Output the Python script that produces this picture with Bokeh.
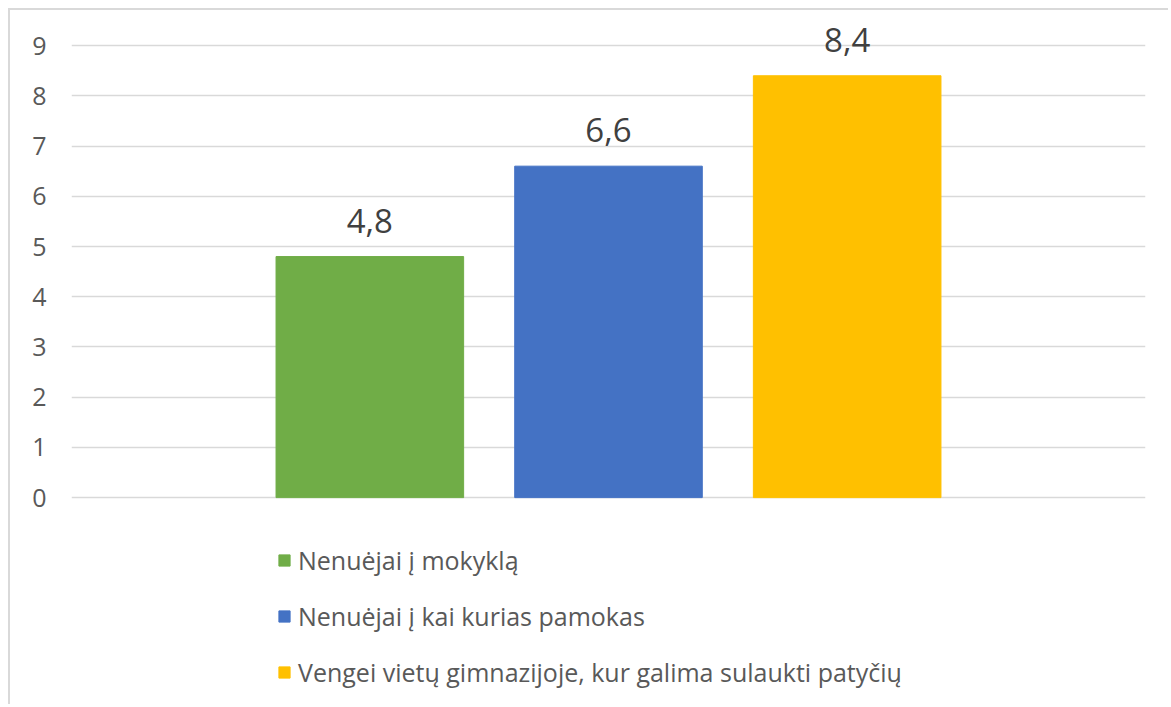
from bokeh.plotting import figure
from bokeh.models import ColumnDataSource, FactorRange, Range1d, Legend, LegendItem, FixedTicker, LabelSet
from bokeh.core.properties import value
from bokeh.embed import file_html
from bokeh.resources import INLINE

series = ["Nenuėjai į mokyklą", "Nenuėjai į kai kurias pamokas",
          "Vengei vietų gimnazijoje, kur galima sulaukti patyčių"]
values = [4.8, 6.6, 8.4]
labels = ["4,8", "6,6", "8,4"]
colors = ["#70AD47", "#4472C4", "#FFC000"]
y_ticks = [0, 1, 2, 3, 4, 5, 6, 7, 8, 9]

FONT = "Open Sans"
src = ColumnDataSource(dict(x=series, top=values, lab=labels, color=colors))

# frame extends below 0 to hold the legend (no gridlines there)
p = figure(width=1160, height=696, output_backend="svg", toolbar_location=None,
           x_range=FactorRange(factors=series, range_padding=0.5),
           y_range=Range1d(-4.0, 9.6))
p.min_border_left = 61
p.min_border_right = 25
p.min_border_top = 5
p.min_border_bottom = 8
p.outline_line_color = None
p.background_fill_color = "white"
p.border_fill_color = "white"
p.styles = {"margin-left": "8px", "margin-top": "8px",
            "border-left": "2px solid #d9d9d9", "border-top": "2px solid #d9d9d9"}

p.xaxis.visible = False
p.xgrid.grid_line_color = None
p.ygrid.grid_line_color = "#d9d9d9"
p.ygrid.grid_line_width = 1.5
p.yaxis.ticker = FixedTicker(ticks=y_ticks)
p.yaxis.axis_line_color = None
p.yaxis.major_tick_line_color = None
p.yaxis.major_tick_out = 0
p.yaxis.major_tick_in = 0
p.yaxis.minor_tick_line_color = None
p.yaxis.major_label_text_font = FONT
p.yaxis.major_label_text_font_size = "25px"
p.yaxis.major_label_text_color = "#595959"
p.yaxis.major_label_standoff = 25

r = p.vbar(x="x", top="top", bottom=0, width=0.786, color="color", source=src)

lbl = LabelSet(x="x", y="top", text="lab", source=src, text_align="center",
               text_baseline="alphabetic", y_offset=24, text_font=value(FONT),
               text_font_size="33px", text_color="#404040")
p.add_layout(lbl)

items = [LegendItem(label=s, renderers=[r], index=i) for i, s in enumerate(series)]
legend = Legend(items=items, location=(206, 9), orientation="vertical")
legend.padding = 0
legend.margin = 0
legend.border_line_color = None
legend.background_fill_alpha = 0
legend.glyph_width = 14
legend.glyph_height = 14
legend.label_height = 34
legend.spacing = 22
legend.label_standoff = 7
legend.label_text_font = FONT
legend.label_text_font_size = "25px"
legend.label_text_color = "#595959"
p.add_layout(legend, "center")

open("out.html", "w").write(file_html(p, INLINE))
